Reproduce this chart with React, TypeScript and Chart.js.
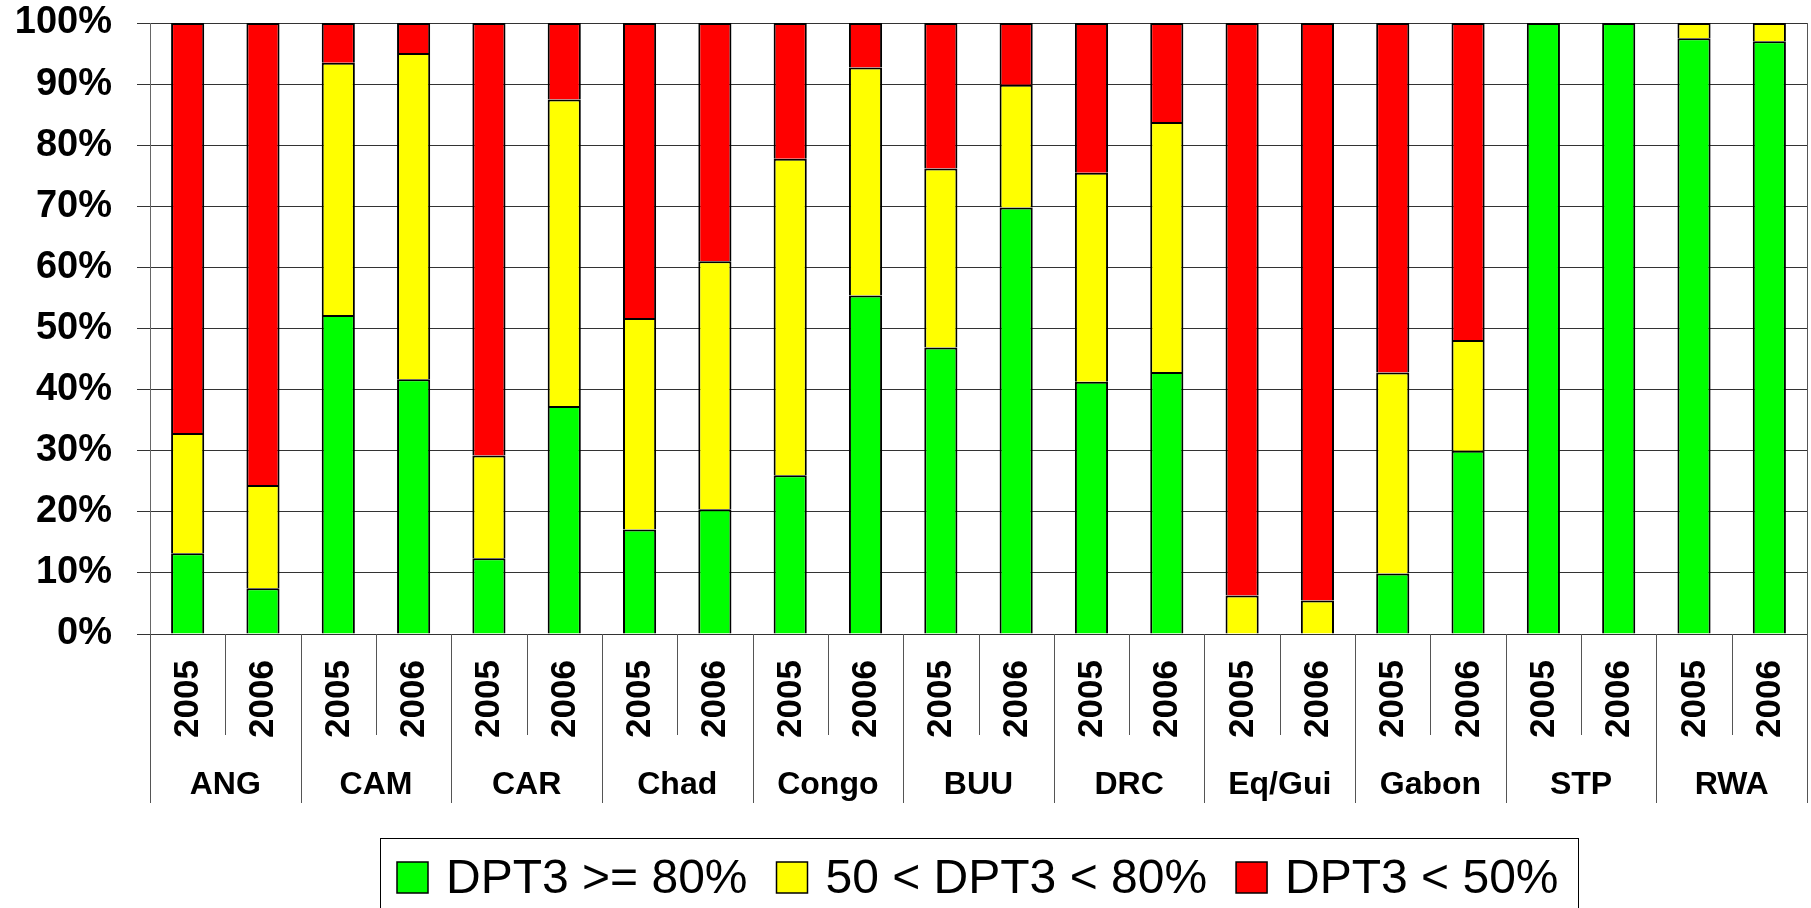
import React, { useEffect, useRef } from "react";
import { Chart, registerables } from "chart.js";

Chart.register(...registerables);

const groups = ["ANG", "CAM", "CAR", "Chad", "Congo", "BUU", "DRC", "Eq/Gui", "Gabon", "STP", "RWA"];
const years = ["2005", "2006"];
const seriesNames = ["DPT3 >= 80%", "50 < DPT3 < 80%", "DPT3 < 50%"];
const seriesColors = ["#00FF00", "#FFFF00", "#FF0000"];

// order: ANG05, ANG06, CAM05, CAM06, ... RWA05, RWA06
const high = [13.2, 7.5, 52.2, 41.7, 12.4, 37.3, 17.1, 20.4, 26.0, 55.4, 46.9, 69.8, 41.3, 42.9, 0, 0, 9.9, 30.0, 100, 100, 97.5, 97.0];
const mid = [19.7, 16.9, 41.3, 53.4, 16.8, 50.2, 34.6, 40.6, 51.8, 37.3, 29.3, 20.1, 34.2, 40.9, 6.3, 5.5, 32.9, 18.1, 0, 0, 2.5, 3.0];
const low = [67.1, 75.6, 6.5, 4.9, 70.8, 12.5, 48.3, 39.0, 22.2, 7.3, 23.8, 10.1, 24.5, 16.2, 93.7, 94.5, 57.2, 51.9, 0, 0, 0, 0];

const yTickValues = [0, 10, 20, 30, 40, 50, 60, 70, 80, 90, 100];

const FONT = "'Liberation Sans', Arial, sans-serif";

const labels: string[] = [];
groups.forEach((g) => years.forEach((y) => labels.push(y + " " + g)));

const categoryAxisPlugin = {
  id: "categoryAxisTable",
  afterDraw(chart: any) {
    const ctx = chart.ctx as CanvasRenderingContext2D;
    const xs = chart.scales.x;
    const area = chart.chartArea;
    const groupLineBottom = 803;
    const yearLineBottom = 735;
    ctx.save();

    // separators
    ctx.strokeStyle = "#555555";
    ctx.lineWidth = 1;
    for (let g = 0; g <= groups.length; g++) {
      let px: number;
      let top = area.bottom;
      if (g === 0) {
        px = area.left;
      } else if (g === groups.length) {
        px = area.right;
        top = area.top;
      } else {
        px = (xs.getPixelForValue(g * 2 - 1) + xs.getPixelForValue(g * 2)) / 2;
      }
      px = Math.round(px) + 0.5;
      ctx.beginPath();
      ctx.moveTo(px, top);
      ctx.lineTo(px, groupLineBottom);
      ctx.stroke();
    }
    for (let g = 0; g < groups.length; g++) {
      let px = (xs.getPixelForValue(g * 2) + xs.getPixelForValue(g * 2 + 1)) / 2;
      px = Math.round(px) + 0.5;
      ctx.beginPath();
      ctx.moveTo(px, area.bottom);
      ctx.lineTo(px, yearLineBottom);
      ctx.stroke();
    }

    // year labels (rotated)
    ctx.fillStyle = "#000";
    ctx.font = "bold 35px " + FONT;
    ctx.textAlign = "center";
    ctx.textBaseline = "alphabetic";
    for (let i = 0; i < labels.length; i++) {
      const px = xs.getPixelForValue(i);
      ctx.save();
      ctx.translate(px + 10.5, 699);
      ctx.rotate(-Math.PI / 2);
      ctx.fillText(years[i % years.length], 0, 0);
      ctx.restore();
    }

    // group labels
    ctx.font = "bold 32px " + FONT;
    for (let g = 0; g < groups.length; g++) {
      const cx = (xs.getPixelForValue(g * 2) + xs.getPixelForValue(g * 2 + 1)) / 2;
      ctx.fillText(groups[g], cx, 794);
    }

    // legend
    ctx.strokeStyle = "#000";
    ctx.lineWidth = 1;
    ctx.strokeRect(380.5, 838.5, 1198, 120);
    ctx.font = "48px " + FONT;
    ctx.textAlign = "left";
    let lx = 397;
    for (let s = 0; s < seriesNames.length; s++) {
      ctx.fillStyle = seriesColors[s];
      ctx.fillRect(lx, 862, 31, 31);
      ctx.lineWidth = 1.5;
      ctx.strokeRect(lx, 862, 31, 31);
      ctx.fillStyle = "#000";
      ctx.fillText(seriesNames[s], lx + 49, 893);
      lx += 49 + ctx.measureText(seriesNames[s]).width + 29;
    }
    ctx.restore();
  },
};

export default function App() {
  const canvasRef = useRef<HTMLCanvasElement | null>(null);

  useEffect(() => {
    if (!canvasRef.current) return;
    const seriesData = [high, mid, low];
    const chart = new Chart(canvasRef.current, {
      type: "bar",
      data: {
        labels,
        datasets: seriesNames.map((name, s) => ({
          label: name,
          data: seriesData[s],
          backgroundColor: seriesColors[s],
          borderColor: "#000000",
          borderWidth: 2,
          barPercentage: 0.44,
          categoryPercentage: 1,
        })),
      },
      options: {
        animation: false,
        responsive: true,
        maintainAspectRatio: false,
        events: [],
        layout: { padding: { top: 0, right: 4, left: 0, bottom: 0 } },
        plugins: {
          legend: { display: false },
          tooltip: { enabled: false },
        },
        scales: {
          x: {
            stacked: true,
            grid: { display: false },
            border: { display: false },
            ticks: { display: false },
            afterFit: (scale: any) => {
              scale.height = 274;
            },
          },
          y: {
            stacked: true,
            min: 0,
            max: 100,
            afterBuildTicks: (scale: any) => {
              scale.ticks = yTickValues.map((v) => ({ value: v }));
            },
            ticks: {
              color: "#000",
              padding: 25,
              font: { family: FONT, size: 38, weight: "bold" },
              callback: (v: any) => v + "%",
            },
            grid: {
              color: "#333333",
              lineWidth: 1,
              tickLength: 13,
              drawTicks: true,
            },
            border: { display: true, color: "#666666", width: 1 },
            afterFit: (scale: any) => {
              scale.width = 150;
              scale.paddingTop = 23;
              scale.paddingBottom = 0;
            },
          },
        },
      },
      plugins: [categoryAxisPlugin],
    });
    return () => chart.destroy();
  }, []);

  return (
    <div style={{ position: "fixed", left: 0, top: 0, width: 1811, height: 908, background: "#fff" }}>
      <canvas ref={canvasRef} />
    </div>
  );
}
